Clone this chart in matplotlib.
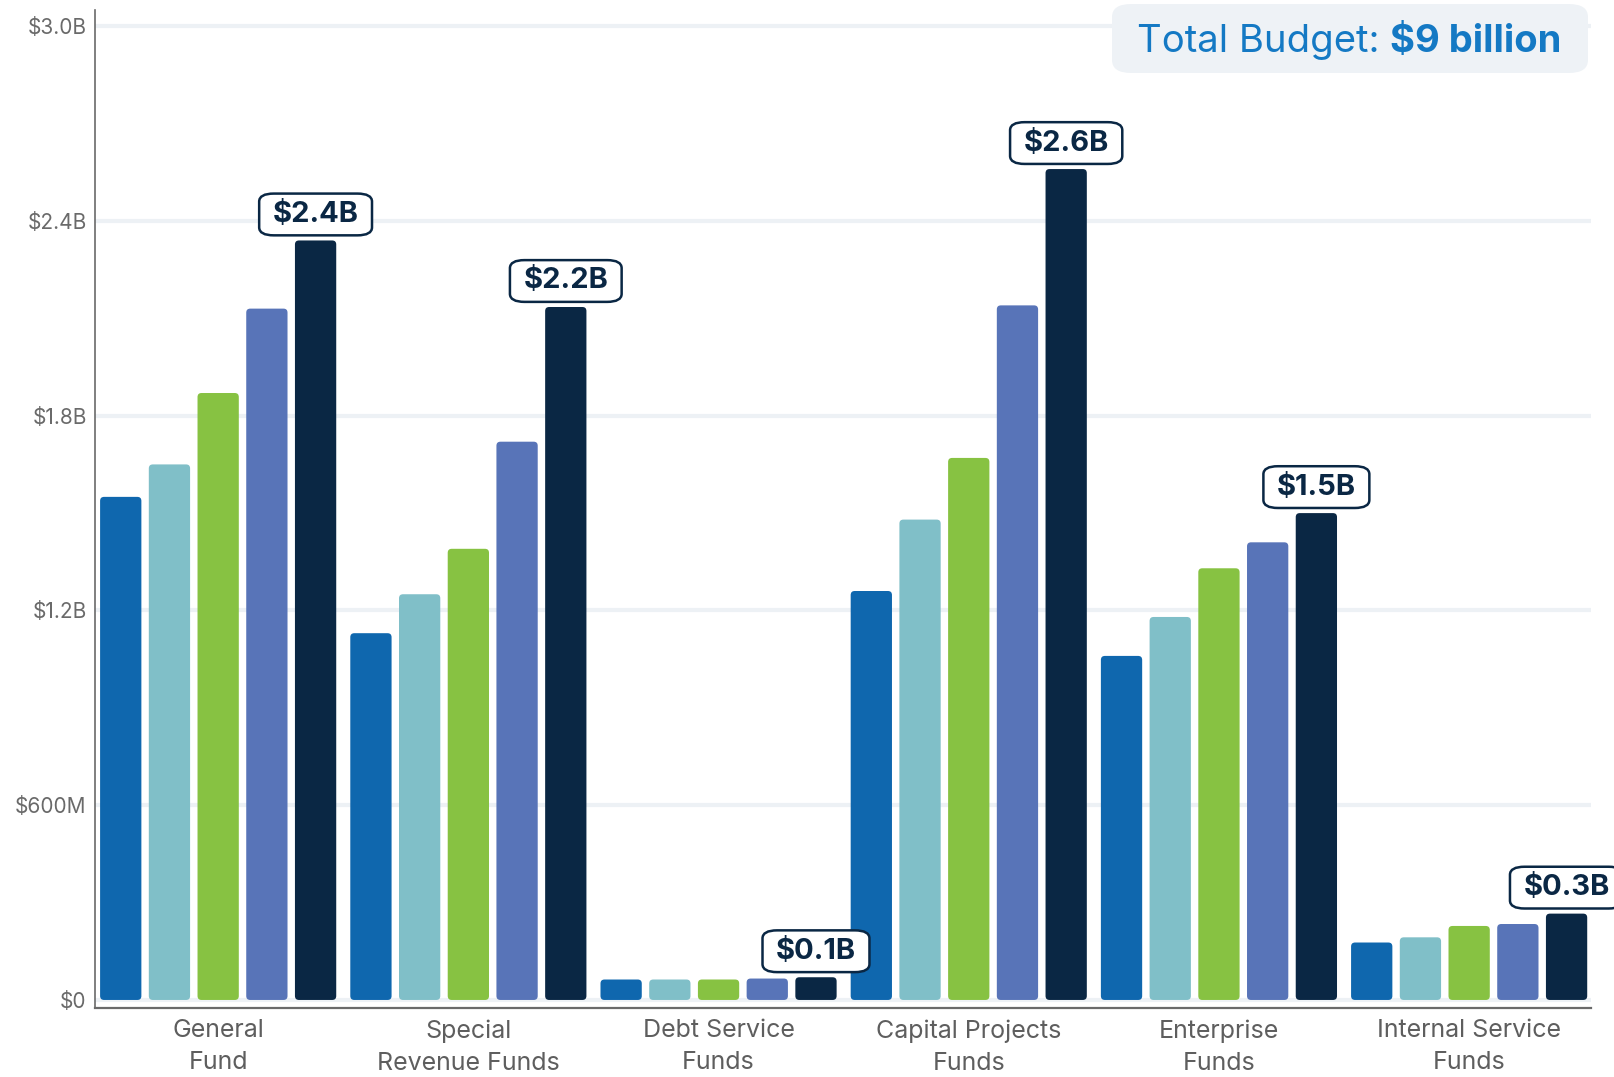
import numpy as np
import matplotlib
matplotlib.use("Agg")
import matplotlib.pyplot as plt
from matplotlib.patches import FancyBboxPatch

plt.rcParams["font.family"] = ["Inter", "DejaVu Sans"]

# data (billions)
categories = ["General\nFund", "Special\nRevenue Funds", "Debt Service\nFunds",
              "Capital Projects\nFunds", "Enterprise\nFunds", "Internal Service\nFunds"]
series_1 = [1.55, 1.13, 0.063, 1.26, 1.06, 0.177]
series_2 = [1.65, 1.25, 0.063, 1.48, 1.18, 0.193]
series_3 = [1.87, 1.39, 0.063, 1.67, 1.33, 0.228]
series_4 = [2.13, 1.72, 0.066, 2.14, 1.41, 0.234]
series_5 = [2.34, 2.135, 0.07, 2.56, 1.50, 0.266]
top_labels = ["$2.4B", "$2.2B", "$0.1B", "$2.6B", "$1.5B", "$0.3B"]
yticks = [0, 0.6, 1.2, 1.8, 2.4, 3.0]
ytick_labels = ["$0", "$600M", "$1.2B", "$1.8B", "$2.4B", "$3.0B"]

colors = ["#0f67ae", "#80bfc8", "#87c242", "#5874b8", "#0a2744"]
navy = "#0a2744"

fig = plt.figure(figsize=(16.14, 10.77), dpi=100)
ax = fig.add_axes([0.0589, 0.064, 0.927, 0.9267])

x = np.arange(len(categories))
step = 0.1947
width = 0.165
all_series = [series_1, series_2, series_3, series_4, series_5]

ax.set_xlim(-0.492, 5.488)
ax.set_ylim(-0.025, 3.05)

for i, vals in enumerate(all_series):
    bars = ax.bar(x + (i - 2) * step, vals, width=width, color=colors[i], zorder=3)
    for r in bars:
        r.set_visible(False)
        fb = FancyBboxPatch((r.get_x(), r.get_y()), r.get_width(), r.get_height(),
                            boxstyle="round,pad=0,rounding_size=0.016",
                            mutation_aspect=0.77, fc=colors[i], ec="none", zorder=3)
        ax.add_patch(fb)

# value labels on the last bar of each group
for xi, v, lab in zip(x + 2 * step, series_5, top_labels):
    ax.annotate(lab, (xi, v), xytext=(0, 9), textcoords="offset points",
                ha="center", va="bottom", fontsize=21, fontweight="bold", color=navy,
                annotation_clip=False, zorder=5,
                bbox=dict(boxstyle="round,pad=0.46,rounding_size=0.5", fc="white",
                          ec=navy, lw=1.8, mutation_aspect=0.55))

ax.set_yticks(yticks)
ax.set_yticklabels(ytick_labels)
ax.set_xticks(x)
ax.set_xticklabels(categories, linespacing=1.5)
ax.tick_params(axis="y", length=0, pad=6, labelsize=15, labelcolor="#6a6a6a")
ax.tick_params(axis="x", length=0, pad=8, labelsize=18, labelcolor="#5e5e5e")

ax.grid(axis="y", color="#edf1f5", lw=3, zorder=0)
ax.set_axisbelow(True)
for s in ["top", "right"]:
    ax.spines[s].set_visible(False)
ax.spines["left"].set_color("#6a6a6a")
ax.spines["left"].set_linewidth(1.2)
ax.spines["bottom"].set_color("#6a6a6a")
ax.spines["bottom"].set_linewidth(1.6)

# total budget box (top right)
W, H = 1614.0, 1077.0
box = FancyBboxPatch((1112 / W, 1 - 73 / H), 476 / W, 69 / H,
                     boxstyle="round,pad=0,rounding_size=0.012",
                     transform=fig.transFigure, fc="#eef2f6", ec="none", zorder=10)
fig.add_artist(box)
t1 = fig.text(1137 / W, 1 - 42 / H, "Total Budget: ", fontsize=27.5, color="#1479c4",
              ha="left", va="center", zorder=11)
fig.canvas.draw()
ext = t1.get_window_extent(fig.canvas.get_renderer())
fig.text(ext.x1 / W, 1 - 42 / H, "$9 billion", fontsize=27.5, fontweight="bold",
         color="#1479c4", ha="left", va="center", zorder=11)

fig.savefig("out.png", dpi=100)
